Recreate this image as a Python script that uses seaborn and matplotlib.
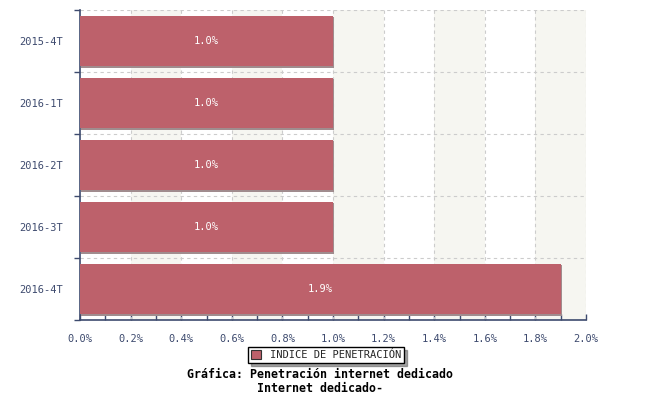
import pandas as pd
import numpy as np
import matplotlib
matplotlib.use("Agg")
import matplotlib.pyplot as plt
import matplotlib.patheffects as pe
from matplotlib.ticker import MultipleLocator
import seaborn as sns

periods = ["2015-4T", "2016-1T", "2016-2T", "2016-3T", "2016-4T"]
penetration = [1.0, 1.0, 1.0, 1.0, 1.9]
series_name = "INDICE DE PENETRACIÓN"
xticks = [0.0, 0.2, 0.4, 0.6, 0.8, 1.0, 1.2, 1.4, 1.6, 1.8, 2.0]

df = pd.DataFrame({"periodo": periods, "valor": penetration})

sns.set_style("white")
plt.rcParams["font.family"] = ["DejaVu Sans Mono"]

axis_col = "#3d4a6e"
bar_col = "#bd616b"

fig = plt.figure(figsize=(6.5, 4), dpi=100)
ax = fig.add_axes([80 / 650, 80 / 400, 506 / 650, 310 / 400])

#alternating background bands
for i in range(len(xticks) - 1):
    if i % 2 == 1:
        ax.axvspan(xticks[i], xticks[i + 1], facecolor="#f6f6f1", edgecolor="none", zorder=0, lw=0)

sns.barplot(data=df, y="periodo", x="valor", orient="h", color=bar_col,
            saturation=1, width=0.82, ax=ax, linewidth=0, edgecolor="none")

#small drop shadow on bars only
for p in ax.containers[0]:
    p.set_zorder(3)
    p.set_path_effects([pe.SimplePatchShadow(offset=(1, -1), shadow_rgbFace="#a08c8e", alpha=1.0),
                        pe.Normal()])

for i, v in enumerate(penetration):
    ax.text(v / 2, i, f"{v:.1f}%", color="white", ha="center", va="center", fontsize=7.5, zorder=4)

ax.set_xlim(0, 2.0)
ax.set_ylim(len(periods) - 0.5, -0.5)
ax.set_xticks(xticks)
ax.set_xticklabels([f"{t:.1f}%" for t in xticks])
ax.xaxis.set_minor_locator(MultipleLocator(0.1))
ax.set_yticks(np.arange(len(periods)))
ax.set_yticklabels(periods)
ax.set_yticks(np.arange(len(periods) + 1) - 0.5, minor=True)
ax.set_xlabel("")
ax.set_ylabel("")

ax.tick_params(axis="y", which="major", left=True, length=0, labelsize=7.5, labelcolor=axis_col, pad=12)
ax.tick_params(axis="y", which="minor", left=True, length=4, color=axis_col, width=1)
ax.tick_params(axis="x", which="major", bottom=True, length=4, color=axis_col, width=1, labelsize=7.5,
               labelcolor=axis_col, direction="in", pad=10)
ax.tick_params(axis="x", which="minor", bottom=True, length=4, color=axis_col, width=1, direction="in")

ax.grid(False)
for x in xticks[1:]:
    ax.axvline(x, color="#cccccc", ls=(0, (3, 3)), lw=0.8, zorder=1)
for y in np.arange(len(periods) + 1) - 0.5:
    ax.axhline(y, color="#cccccc", ls=(0, (3, 3)), lw=0.8, zorder=1)

for s in ["top", "right"]:
    ax.spines[s].set_visible(False)
for s in ["left", "bottom"]:
    ax.spines[s].set_color(axis_col)
    ax.spines[s].set_linewidth(1.2)

leg = fig.legend(handles=[plt.Rectangle((0, 0), 1, 1, fc=bar_col, ec="#333333", lw=0.8)],
                 labels=[series_name], loc="center", bbox_to_anchor=(326 / 650, 1 - 355 / 400),
                 fontsize=7.5, frameon=True, fancybox=False, shadow=True, handlelength=1.0,
                 handleheight=0.9, borderpad=0.3, handletextpad=0.8, borderaxespad=0)
leg.get_frame().set_edgecolor("black")
leg.get_frame().set_linewidth(1)

fig.text(320 / 650, 1 - 375 / 400, "Gráfica: Penetración internet dedicado", ha="center", va="center",
         fontsize=8.4, fontweight="bold", color="black")
fig.text(320 / 650, 1 - 388 / 400, "Internet dedicado-", ha="center", va="center",
         fontsize=8.4, fontweight="bold", color="black")

fig.savefig("out.png", dpi=100)
